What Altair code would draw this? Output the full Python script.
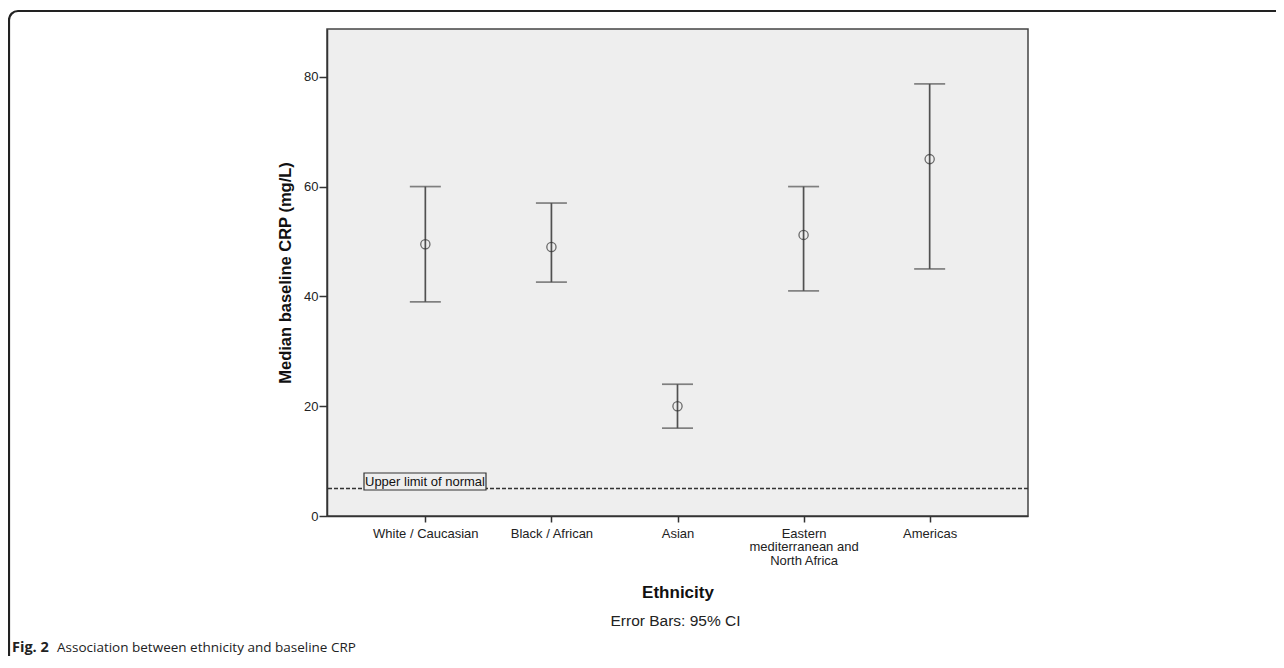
import altair as alt
import pandas as pd

categories = ["White / Caucasian", "Black / African", "Asian",
              "Eastern mediterranean and North Africa", "Americas"]
medians = [49.5, 49.0, 20.0, 51.2, 65.0]
ci_low = [39.0, 42.6, 16.0, 41.0, 45.0]
ci_high = [60.0, 57.0, 24.0, 60.0, 78.7]
y_ticks = [0, 20, 40, 60, 80]
upper_limit_normal = 5

df = pd.DataFrame({"Ethnicity": categories, "median": medians,
                   "lo": ci_low, "hi": ci_high})

W, H = 701, 487
FONT = "Liberation Sans"
LINE = "#505050"

xenc = alt.X("Ethnicity:N", sort=categories,
             scale=alt.Scale(type="point", padding=0.78),
             axis=alt.Axis(title="Ethnicity", titleFontSize=17, titleFontWeight="bold",
                           titleFont=FONT, titleColor="#111", titlePadding=17,
                           labelFont=FONT, labelFontSize=13, labelColor="#222",
                           labelAngle=0, labelPadding=5, labelLineHeight=13.5,
                           labelExpr="datum.value == 'Eastern mediterranean and North Africa' ? ['Eastern','mediterranean and','North Africa'] : datum.value",
                           tickSize=6, tickColor="#333", domainColor="#333",
                           domainWidth=1.5, tickWidth=1.5))
yscale = alt.Scale(domain=[0, 88.7], nice=False, zero=True)
yaxis = alt.Axis(title="Median baseline CRP (mg/L)", titleFontSize=16.5, titleFontWeight="bold",
                 titleFont=FONT, titleColor="#111", titlePadding=10,
                 values=y_ticks, grid=False, labelFont=FONT, labelFontSize=13,
                 labelColor="#222", labelPadding=1, tickSize=8, tickColor="#333",
                 domainColor="#333", domainWidth=1.5, tickWidth=1.5)

base = alt.Chart(df)

rules = base.mark_rule(color=LINE, strokeWidth=1.7).encode(
    x=xenc, y=alt.Y("lo:Q", scale=yscale, axis=yaxis), y2="hi:Q")
cap_hi = base.mark_tick(color=LINE, thickness=1.7, size=31, orient="horizontal").encode(
    x=alt.X("Ethnicity:N", sort=categories), y=alt.Y("hi:Q"))
cap_lo = base.mark_tick(color=LINE, thickness=1.7, size=31, orient="horizontal").encode(
    x=alt.X("Ethnicity:N", sort=categories), y=alt.Y("lo:Q"))
points = base.mark_point(shape="circle", filled=False, color="#333", size=85,
                         strokeWidth=1.3).encode(
    x=alt.X("Ethnicity:N", sort=categories), y=alt.Y("median:Q"))

ref = alt.Chart(pd.DataFrame({"v": [upper_limit_normal]})).mark_rule(
    color="#333", strokeDash=[4, 2], strokeWidth=1.5).encode(y=alt.Y("v:Q"))

one = pd.DataFrame({"a": [0]})
ref_box = alt.Chart(one).mark_rect(fill="#eeeeee", stroke="#333", strokeWidth=1.2).encode(
    x=alt.value(37), x2=alt.value(159), y=alt.value(444), y2=alt.value(461))
ref_text = alt.Chart(one).mark_text(text="Upper limit of normal", font=FONT, fontSize=13,
                                    align="left", baseline="middle", color="#111").encode(
    x=alt.value(38), y=alt.value(453))

note = alt.Chart(one).mark_text(text="Error Bars: 95% CI", font=FONT, fontSize=15.5,
                                align="center", baseline="middle", color="#222").encode(
    x=alt.value(W / 2 - 2), y=alt.value(592))

frame = alt.Chart(one).mark_rect(fill=None, fillOpacity=0, stroke="#222", strokeWidth=2.2,
                                 cornerRadius=9).encode(
    x=alt.value(-318), x2=alt.value(1600), y=alt.value(-18), y2=alt.value(2000))

cap_fig = alt.Chart(one).mark_text(text="Fig. 2", font="Open Sans", fontSize=14.5,
                                   fontWeight="bold", align="left", baseline="middle",
                                   color="#222").encode(x=alt.value(-315), y=alt.value(619))
cap_rest = alt.Chart(one).mark_text(text="Association between ethnicity and baseline CRP",
                                    font="Open Sans", fontSize=13.5, align="left",
                                    baseline="middle", color="#222").encode(
    x=alt.value(-270), y=alt.value(619))

chart = alt.layer(ref, ref_box, ref_text, rules, cap_hi, cap_lo, points, note,
                  frame, cap_fig, cap_rest).properties(
    width=W, height=H,
    autosize=alt.AutoSizeParams(type="none"),
    padding={"left": 319, "top": 21, "right": 248, "bottom": 140},
).configure_view(fill="#eeeeee", stroke="#444", strokeWidth=1.5)

chart.save("out.html", embed_options={"renderer": "svg", "actions": False})
